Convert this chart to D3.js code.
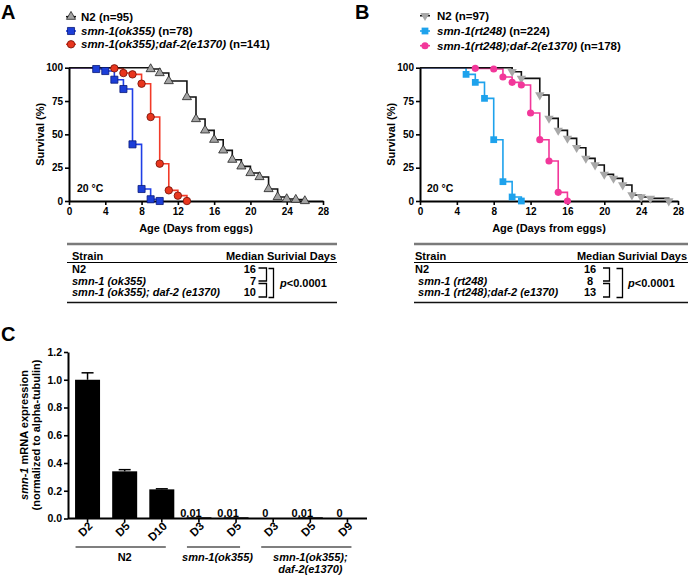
<!DOCTYPE html>
<html><head><meta charset="utf-8">
<script src="https://cdn.jsdelivr.net/npm/d3@7"></script>
<style>
body{margin:0;background:#fff;}
svg text{font-family:"Liberation Sans",Arial,Helvetica,sans-serif;font-weight:bold;fill:#000;}
</style></head><body>
<svg id="c" width="688" height="576" xmlns="http://www.w3.org/2000/svg"></svg>
<script>
// ---------------- DATA ----------------
// Panel A survival (days, % surviving)
const daysA_N2 = [9,10,11,13,14,15,16,17,18,19,20,21,22,23,24,25,26];
const survA_N2 = [99,96,90,78,61.5,53,46,38,31,26,21,18,9,3,1.5,1,0];
const daysA_ok355 = [3,4,5,6,7,8,9,10];
const survA_ok355 = [99,97.5,91,84,42.5,9,1.3,0];
const daysA_dbl = [5,6,7,8,9,10,11,12,13];
const survA_dbl = [99.5,96,95,88,63,28,8,4,0];
// Panel B survival
const daysB_N2 = [10,11,13,14,15,16,17,18,19,20,21,22,23,24,25,27];
const survB_N2 = [97,92,79.5,62,53,47,40,32,27,20,17,12,4.5,3,2,0];
const daysB_rt248 = [5,6,7,8,9,10,11];
const survB_rt248 = [95,89,77,46,14.5,3,0];
const daysB_dbl = [6,8,9,10,11,12,13,14,15,16];
const survB_dbl = [99.5,99,93,89,87,66,46,30,6.5,0];
const kmXTicks = [0,4,8,12,16,20,24,28];
const kmYTicks = [0,25,50,75,100];
// Tables
const strainsA = ["N2","smn-1 (ok355)","smn-1 (ok355); daf-2 (e1370)"];
const mediansA = [16,7,10];
const strainsB = ["N2"," smn-1 (rt248)"," smn-1 (rt248);daf-2 (e1370)"];
const mediansB = [16,8,13];
const pText = "<0.0001";
// Panel C bars
const barCats = ["D2","D5","D10","D3","D5","D3","D5","D9"];
const barVals = [1.0,0.34,0.21,0.01,0.01,0,0.01,0];
const barErrs = [0.05,0.012,0.004,0,0,0,0,0];
const barLabels = [null,null,null,"0.01","0.01","0","0.01","0"];
const barYTicks = [0,0.2,0.4,0.6,0.8,1.0,1.2];
const groupNames = [["N2"],["smn-1(ok355)"],["smn-1(ok355);","daf-2(e1370)"]];
const groupRanges = [[0,2],[3,4],[5,7]];

// ---------------- DRAW ----------------
const svg = d3.select("#c");
const FONT = "'Liberation Sans',Arial,sans-serif";

function styleAxis(g, fs){
  g.select(".domain").attr("stroke","#000").attr("stroke-width",2);
  g.selectAll(".tick line").attr("stroke","#000").attr("stroke-width",1.6);
  g.selectAll(".tick text").attr("font-size",fs).attr("font-family",FONT).attr("font-weight","bold").attr("fill","#000");
}

function drawKM(cfg){
  const g = svg.append("g");
  const x = d3.scaleLinear().domain([0,28]).range([cfg.x0,cfg.x1]);
  const y = d3.scaleLinear().domain([0,100]).range([cfg.y0,cfg.y1]);
  const line = d3.line().x(d=>x(d[0])).y(d=>y(d[1])).curve(d3.curveStepAfter);
  cfg.series.slice().reverse().forEach(s=>{
    const pts = [[0,100]].concat(s.days.map((d,i)=>[d,s.surv[i]]));
    g.append("path").attr("d",line(pts)).attr("fill","none")
      .attr("stroke",s.line).attr("stroke-width",1.6);
  });
  const ax = g.append("g").attr("transform",`translate(0,${cfg.y0})`)
    .call(d3.axisBottom(x).tickValues(kmXTicks).tickSize(4).tickSizeOuter(0).tickPadding(3));
  styleAxis(ax,"10px");
  const ay = g.append("g").attr("transform",`translate(${cfg.x0},0)`)
    .call(d3.axisLeft(y).tickValues(kmYTicks).tickSize(4).tickSizeOuter(0).tickPadding(2));
  styleAxis(ay,"10px");
  cfg.series.forEach(s=>{
    const path = d3.symbol().type(s.shape).size(s.size)();
    g.selectAll(null).data(s.days.map((d,i)=>[d,s.surv[i]])).join("path")
      .attr("d",path)
      .attr("transform",d=>`translate(${x(d[0])},${y(d[1])}) rotate(${s.rot||0})`)
      .attr("fill",s.fill).attr("stroke",s.stroke||"none").attr("stroke-width",0.8);
  });
  g.append("text").attr("x",(cfg.x0+cfg.x1)/2).attr("y",232).attr("text-anchor","middle")
    .attr("font-size","11px").text("Age (Days from eggs)");
  g.append("text").attr("transform",`translate(${cfg.ylx},${(cfg.y0+cfg.y1)/2}) rotate(-90)`)
    .attr("text-anchor","middle").attr("font-size","11px").text("Survival (%)");
  g.append("text").attr("x",cfg.tempX).attr("y",192).attr("font-size","10.5px").text("20 °C");
  cfg.series.forEach((s,i)=>{
    const ly = cfg.legY[i];
    g.append("line").attr("x1",cfg.legX-5).attr("x2",cfg.legX+5).attr("y1",ly).attr("y2",ly)
      .attr("stroke",s.line).attr("stroke-width",1.6);
    g.append("path").attr("d",d3.symbol().type(s.shape).size(s.size)())
      .attr("transform",`translate(${cfg.legX},${ly}) rotate(${s.rot||0})`)
      .attr("fill",s.fill).attr("stroke",s.stroke||"none").attr("stroke-width",0.8);
    const t = g.append("text").attr("x",cfg.legTextX).attr("y",ly+4).attr("font-size","11.5px");
    s.label.forEach(part=>{
      t.append("tspan").attr("font-style",part[1]?"italic":"normal").text(part[0]);
    });
  });
  g.append("text").attr("x",cfg.letterX).attr("y",19).attr("font-size","20px").text(cfg.letter);
}

drawKM({
  letter:"A", letterX:1, x0:69, x1:323, y0:201, y1:67.7, ylx:44, tempX:77,
  legX:71, legTextX:81, legY:[16.7,31,44.3],
  series:[
    {days:daysA_N2, surv:survA_N2, line:"#111", fill:"#a3a3a3", stroke:"#222", shape:d3.symbolTriangle, size:36,
     label:[["N2 (n=95)",false]]},
    {days:daysA_ok355, surv:survA_ok355, line:"#1f3fe6", fill:"#1c3ed8", stroke:"#0a1a78", shape:d3.symbolSquare, size:50,
     label:[["smn-1(ok355)",true],[" (n=78)",false]]},
    {days:daysA_dbl, surv:survA_dbl, line:"#f23a28", fill:"#e8361e", stroke:"#6e1008", shape:d3.symbolCircle, size:44,
     label:[["smn-1(ok355);daf-2(e1370)",true],[" (n=141)",false]]}
  ]
});
drawKM({
  letter:"B", letterX:355, x0:420, x1:678, y0:201, y1:67.7, ylx:395, tempX:427,
  legX:425, legTextX:437, legY:[15.7,31,45.7],
  series:[
    {days:daysB_N2, surv:survB_N2, line:"#111", fill:"#a8a8a8", stroke:null, shape:d3.symbolTriangle, size:38, rot:180,
     label:[["N2 (n=97)",false]]},
    {days:daysB_rt248, surv:survB_rt248, line:"#1ea2ec", fill:"#1ea2ec", stroke:null, shape:d3.symbolSquare, size:46,
     label:[["smn-1(rt248)",true],[" (n=224)",false]]},
    {days:daysB_dbl, surv:survB_dbl, line:"#f2379a", fill:"#f2379a", stroke:null, shape:d3.symbolCircle, size:40,
     label:[["smn-1(rt248);daf-2(e1370)",true],[" (n=178)",false]]}
  ]
});

function drawTable(cfg){
  const g = svg.append("g");
  const rowsY = [273,284.5,296];
  g.append("line").attr("x1",cfg.x0).attr("x2",cfg.x1).attr("y1",244).attr("y2",244).attr("stroke","#7a7a7a").attr("stroke-width",2.5);
  g.append("line").attr("x1",cfg.x0).attr("x2",cfg.x1).attr("y1",262.5).attr("y2",262.5).attr("stroke","#000").attr("stroke-width",1);
  g.append("line").attr("x1",cfg.x0).attr("x2",cfg.x1).attr("y1",302.5).attr("y2",302.5).attr("stroke","#111").attr("stroke-width",1.5);
  g.append("text").attr("x",cfg.tx).attr("y",259.5).attr("font-size","11px").text("Strain");
  g.append("text").attr("x",cfg.x1-1).attr("y",259.5).attr("text-anchor","end").attr("font-size","11px").text("Median Surivial Days");
  cfg.strains.forEach((s,i)=>{
    g.append("text").attr("x",cfg.tx).attr("y",rowsY[i]).attr("font-size","11px")
      .attr("font-style",i===0?"normal":"italic").style("white-space","pre").text(s);
    g.append("text").attr("x",cfg.numX).attr("y",rowsY[i]).attr("font-size","11px")
      .attr("text-anchor",cfg.numAnchor).text(cfg.medians[i]);
  });
  const br = (xa,xb,ya,yb)=> g.append("path").attr("d",`M${xa},${ya}H${xb}V${yb}H${xa}`)
     .attr("fill","none").attr("stroke","#000").attr("stroke-width",1.3);
  br(cfg.b1a,cfg.b1b,268,281);
  br(cfg.b1a,cfg.b1b,283.5,297);
  br(cfg.b2a,cfg.b2b,268.5,297.5);
  const pt = g.append("text").attr("x",cfg.px).attr("y",287).attr("font-size","11px");
  pt.append("tspan").attr("font-style","italic").text("p");
  pt.append("tspan").text(pText);
}
drawTable({x0:67,x1:337,tx:72,strains:strainsA,medians:mediansA,numX:256,numAnchor:"end",
  b1a:258.5,b1b:266.5,b2a:268.5,b2b:273.5,px:280});
drawTable({x0:414,x1:688,tx:415,strains:strainsB,medians:mediansB,numX:590,numAnchor:"middle",
  b1a:603,b1b:609.5,b2a:616.5,b2b:622.5,px:628});

// ---------- Panel C ----------
(function(){
  const g = svg.append("g");
  const x = d3.scaleBand().domain(d3.range(barCats.length)).range([68,367]).paddingInner(0.327).paddingOuter(0.19);
  const y = d3.scaleLinear().domain([0,1.2]).range([518.5,352]);
  const bw = x.bandwidth();
  g.selectAll(null).data(barVals).join("rect")
    .attr("x",(d,i)=>x(i)).attr("width",bw)
    .attr("y",d=>y(d)).attr("height",d=>y(0)-y(d))
    .attr("fill",(d,i)=> i<3 ? "#000" : "#333");
  barErrs.forEach((e,i)=>{
    if(!e) return;
    const cx = x(i)+bw/2;
    g.append("line").attr("x1",cx).attr("x2",cx).attr("y1",y(barVals[i])).attr("y2",y(barVals[i]+e)).attr("stroke","#000").attr("stroke-width",1.5);
    g.append("line").attr("x1",cx-6).attr("x2",cx+6).attr("y1",y(barVals[i]+e)).attr("y2",y(barVals[i]+e)).attr("stroke","#000").attr("stroke-width",1.5);
  });
  const ay = g.append("g").attr("transform","translate(68,0)")
    .call(d3.axisLeft(y).tickValues(barYTicks).tickFormat(d3.format(".1f")).tickSize(4).tickSizeOuter(0).tickPadding(2));
  styleAxis(ay,"10.5px");
  const ax = g.append("g").attr("transform","translate(0,518.5)")
    .call(d3.axisBottom(x).tickSize(4).tickSizeOuter(0).tickFormat(()=>""));
  styleAxis(ax,"10px");
  ax.select(".domain").attr("d","M68,0H367");
  barCats.forEach((c,i)=>{
    const cx = x(i)+bw/2;
    g.append("text").attr("transform",`translate(${cx+3},${524}) rotate(-45)`)
      .attr("text-anchor","end").attr("dy","0.35em").attr("font-size","11.5px").text(c);
  });
  barLabels.forEach((l,i)=>{
    if(l===null) return;
    g.append("text").attr("x",x(i)+bw/2-8).attr("y",516.5).attr("text-anchor","middle").attr("font-size","11px").text(l);
  });
  groupRanges.forEach((r,k)=>{
    const a = x(r[0])+bw/2, b = x(r[1])+bw/2;
    g.append("line").attr("x1",a-12).attr("x2",b+4).attr("y1",547).attr("y2",547).attr("stroke","#000").attr("stroke-width",1.2);
    groupNames[k].forEach((nm,j)=>{
      g.append("text").attr("x",(a+b)/2).attr("y",560.5+j*12.5).attr("text-anchor","middle")
        .attr("font-size","11px").attr("font-style",k===0?"normal":"italic").text(nm);
    });
  });
  const t1 = g.append("text").attr("transform","translate(28,435) rotate(-90)").attr("text-anchor","middle").attr("font-size","11px");
  t1.append("tspan").attr("font-style","italic").text("smn-1");
  t1.append("tspan").text(" mRNA expression");
  g.append("text").attr("transform","translate(40,435) rotate(-90)").attr("text-anchor","middle").attr("font-size","11px")
    .text("(normalized to alpha-tubulin)");
  g.append("text").attr("x",1).attr("y",341).attr("font-size","20px").text("C");
})();
</script>
</body></html>
